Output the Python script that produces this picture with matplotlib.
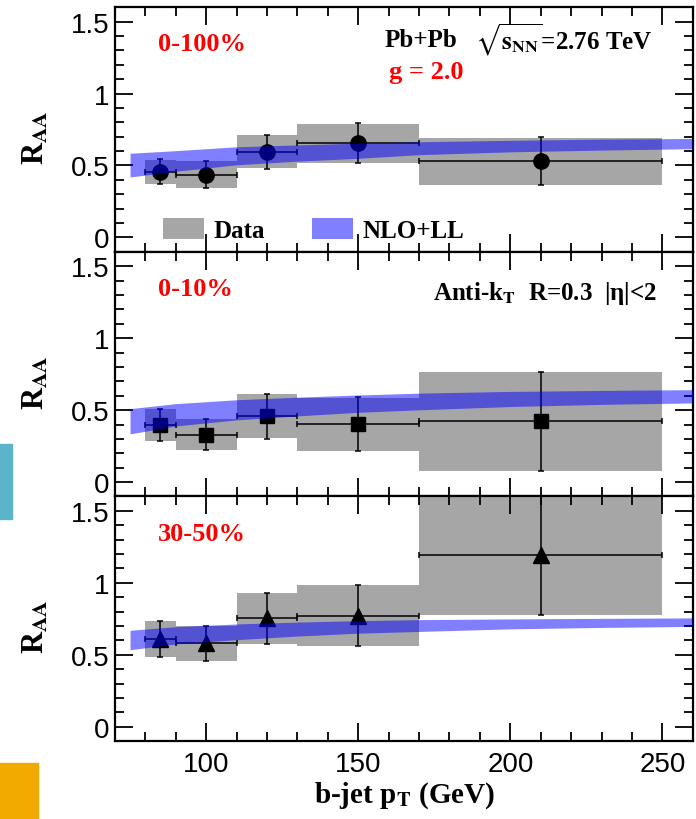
import numpy as np
import matplotlib
matplotlib.use('Agg')
import matplotlib.pyplot as plt
from matplotlib.patches import Patch, Rectangle
from matplotlib.ticker import MultipleLocator, FormatStrFormatter

plt.rcParams['mathtext.fontset'] = 'stix'
plt.rcParams['font.family'] = ['Liberation Sans', 'DejaVu Sans']

# b-jet pT bins (GeV)
pt = np.array([85, 100, 120, 150, 210])
pt_half = np.array([5, 10, 10, 20, 40])

# R_AA measurements: value, statistical error, systematic error
raa_0_100 = np.array([0.455, 0.437, 0.597, 0.654, 0.530])
stat_0_100 = np.array([0.087, 0.091, 0.118, 0.139, 0.167])
sys_0_100 = np.array([0.083, 0.093, 0.116, 0.136, 0.163])

raa_0_10 = np.array([0.398, 0.328, 0.458, 0.402, 0.421])
stat_0_10 = np.array([0.112, 0.108, 0.156, 0.186, 0.344])
sys_0_10 = np.array([0.113, 0.107, 0.153, 0.183, 0.343])

raa_30_50 = np.array([0.609, 0.579, 0.753, 0.772, 1.190])
stat_30_50 = np.array([0.125, 0.122, 0.177, 0.214, 0.414])
sys_30_50 = np.array([0.125, 0.123, 0.176, 0.213, 0.413])

# NLO+LL band edges
pt_band = np.array([75, 90, 110, 130, 150, 170, 200, 230, 260])
band_lo_0_100 = np.array([0.420, 0.460, 0.505, 0.530, 0.550, 0.575, 0.595, 0.607, 0.617])
band_hi_0_100 = np.array([0.585, 0.603, 0.630, 0.643, 0.655, 0.665, 0.675, 0.683, 0.688])
band_lo_0_10 = np.array([0.335, 0.390, 0.432, 0.460, 0.485, 0.502, 0.525, 0.540, 0.550])
band_hi_0_10 = np.array([0.510, 0.545, 0.572, 0.590, 0.605, 0.618, 0.630, 0.637, 0.642])
band_lo_30_50 = np.array([0.535, 0.575, 0.605, 0.630, 0.650, 0.662, 0.680, 0.690, 0.697])
band_hi_30_50 = np.array([0.670, 0.695, 0.714, 0.727, 0.737, 0.744, 0.749, 0.753, 0.756])

panels = [
    ('0-100%', raa_0_100, stat_0_100, sys_0_100, band_lo_0_100, band_hi_0_100, 'o'),
    ('0-10%', raa_0_10, stat_0_10, sys_0_10, band_lo_0_10, band_hi_0_10, 's'),
    ('30-50%', raa_30_50, stat_30_50, sys_30_50, band_lo_30_50, band_hi_30_50, '^'),
]

gray = '#a6a6a6'
band_col = (0, 0, 1, 0.5)
serif = 'Liberation Serif'

fig, axes = plt.subplots(3, 1, sharex=True, figsize=(6.96, 8.2), dpi=100)
plt.subplots_adjust(left=0.165, right=0.9955, top=0.990, bottom=0.095, hspace=0)

for ax, (cent, raa, stat, syst, lo, hi, mk) in zip(axes, panels):
    ax.bar(pt, 2 * syst, bottom=raa - syst, width=2 * pt_half, color=gray,
           linewidth=0, zorder=1)
    ms = 11 if mk != 's' else 10
    ax.errorbar(pt, raa, xerr=pt_half, yerr=stat, fmt=mk, color='k', ms=ms,
                capsize=2.5, elinewidth=1.1, capthick=1.1, zorder=3)
    ax.fill_between(pt_band, lo, hi, color=band_col, linewidth=0, zorder=4)

    ax.set_xlim(70, 260)
    ax.set_ylim(-0.1, 1.6)
    ax.xaxis.set_major_locator(MultipleLocator(50))
    ax.xaxis.set_minor_locator(MultipleLocator(10))
    ax.yaxis.set_major_locator(MultipleLocator(0.5))
    ax.yaxis.set_minor_locator(MultipleLocator(0.1))
    ax.yaxis.set_major_formatter(FormatStrFormatter('%g'))
    ax.tick_params(which='both', direction='in', top=True, right=True, width=1.3)
    ax.tick_params(which='major', length=13, labelsize=20, pad=4)
    ax.tick_params(which='minor', length=6.5)
    ax.tick_params(axis='x', which='major', pad=7)
    for s in ax.spines.values():
        s.set_linewidth(1.6)

    ax.set_ylabel(r'R$_{\mathbf{AA}}$', family=serif, fontweight='bold', fontsize=22)
    ax.yaxis.set_label_coords(-0.11, 0.47)
    ax.text(0.074, 0.85, cent, transform=ax.transAxes, color='red', family=serif,
            fontweight='bold', fontsize=19, va='center', ha='left')

ax0, ax1, ax2 = axes
ax0.text(0.467, 0.868, 'Pb+Pb', transform=ax0.transAxes, family=serif,
         fontweight='bold', fontsize=18, va='center')
ax0.text(0.93, 0.872, r'$\sqrt{\mathbf{s}_{\mathbf{NN}}}$=2.76 TeV',
         transform=ax0.transAxes, family=serif, fontweight='bold', fontsize=18,
         va='center', ha='right')
ax0.text(0.475, 0.739, 'g = 2.0', transform=ax0.transAxes, color='red',
         family=serif, fontweight='bold', fontsize=19, va='center')

leg = ax0.legend(handles=[Patch(color=gray, linewidth=0),
                          Patch(color=band_col, linewidth=0)],
                 labels=['Data', 'NLO+LL'], ncol=2, frameon=False,
                 loc='lower left', bbox_to_anchor=(0.062, -0.012), borderpad=0,
                 handlelength=1.65, handleheight=0.9, handletextpad=0.35,
                 columnspacing=1.9, prop={'family': serif, 'weight': 'bold',
                                          'size': 18})

ax1.text(0.938, 0.835, r'Anti-k$_{\mathbf{T}}$  R=0.3  |η|<2',
         transform=ax1.transAxes, family=serif, fontweight='bold', fontsize=18,
         va='center', ha='right')

fig.text(0.582, 0.030, r'b-jet p$_{\mathbf{T}}$ (GeV)', family=serif,
         fontweight='bold', fontsize=21, ha='center', va='center')

# coloured side markers at the left edge
fig.patches.append(Rectangle((0, 1 - 520 / 820), 12 / 696, 75 / 820,
                             transform=fig.transFigure, color='#5cb4cb',
                             zorder=0))
fig.patches.append(Rectangle((0, 0), 38 / 696, 56 / 820,
                             transform=fig.transFigure, color='#f1ab00',
                             zorder=0))

fig.savefig('out.png', dpi=100)
